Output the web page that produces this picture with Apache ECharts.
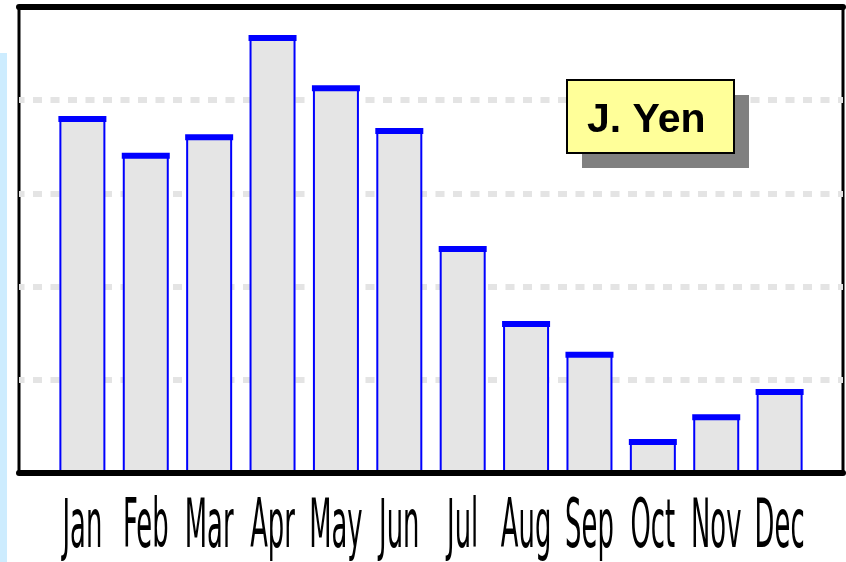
<!DOCTYPE html>
<html>
<head>
<meta charset="utf-8">
<title>J. Yen</title>
<script src="https://cdn.jsdelivr.net/npm/echarts@6/dist/echarts.min.js"></script>
<style>
  html, body { margin: 0; padding: 0; background: #fff; }
  #chart { width: 846px; height: 562px; }
</style>
</head>
<body>
<div id="chart"></div>
<script>
// data (no y labels shown, so 0..100 scale)
var months = ['Jan', 'Feb', 'Mar', 'Apr', 'May', 'Jun', 'Jul', 'Aug', 'Sep', 'Oct', 'Nov', 'Dec'];
var values = [76.4, 68.5, 72.5, 93.8, 83.0, 73.8, 48.5, 32.4, 25.8, 7.1, 12.4, 17.8];
var seriesName = 'J. Yen';
var yTicks = [0, 20, 40, 60, 80, 100];

var chart = echarts.init(document.getElementById('chart'));

// bars sit on a value x axis: one unit per month, one unit of padding at each side
function pairs() {
  return values.map(function (v, i) { return [i, v]; });
}

// legend box (yellow with a hard grey drop shadow)
var box = { left: 566, top: 79, width: 167, height: 73, shadow: 16 };

var decorations = [
  {
    type: 'rect', left: 0, top: 53, silent: true,
    shape: { width: 7, height: 509 },
    style: { fill: '#cdecfe' }
  },
  {
    type: 'rect', left: box.left + box.shadow, top: box.top + box.shadow, z: 10, silent: true,
    shape: { width: box.width, height: box.height },
    style: { fill: '#808080' }
  },
  {
    type: 'rect', left: box.left, top: box.top, z: 10, silent: true,
    shape: { width: box.width, height: box.height },
    style: { fill: '#ffff99', stroke: '#000', lineWidth: 2 }
  }
];

var option = {
  animation: false,
  backgroundColor: '#fff',
  grid: {
    left: 19, right: 3, top: 7, bottom: 89,
    show: true,
    borderColor: '#000',
    borderWidth: 3
  },
  legend: {
    data: [seriesName],
    left: box.left,
    top: box.top,
    z: 12,
    icon: 'none',
    itemWidth: 0,
    itemHeight: 0,
    padding: [21, 20, 12, 16],
    selectedMode: false,
    textStyle: {
      color: '#000',
      fontSize: 41,
      fontWeight: 'bold',
      fontFamily: '"Liberation Sans", Arial, sans-serif'
    }
  },
  xAxis: [
    {
      type: 'value', min: -1, max: 12, interval: 1, z: 5,
      axisLine: { show: true, onZero: false, lineStyle: { color: '#000', width: 6 } },
      axisTick: { show: false },
      axisLabel: { show: false },
      splitLine: { show: false }
    },
    {
      type: 'value', position: 'top', min: -1, max: 12, interval: 1, z: 5,
      axisLine: { show: true, onZero: false, lineStyle: { color: '#000', width: 6 } },
      axisTick: { show: false },
      axisLabel: { show: false },
      splitLine: { show: false }
    }
  ],
  yAxis: {
    type: 'value',
    min: yTicks[0],
    max: yTicks[yTicks.length - 1],
    interval: yTicks[1] - yTicks[0],
    axisLine: { show: false },
    axisTick: { show: false },
    axisLabel: { show: false },
    splitLine: {
      show: true,
      lineStyle: { color: '#e4e4e4', width: 6, type: [9, 8.5], dashOffset: 3.5 }
    }
  },
  series: [
    {
      name: seriesName,
      type: 'bar',
      data: pairs(),
      barWidth: 46,
      itemStyle: { color: '#e5e5e5', borderColor: '#0000ff', borderWidth: 2 },
      silent: true,
      z: 2
    },
    {
      // thick blue cap on top of every bar
      name: 'cap',
      type: 'scatter',
      data: pairs(),
      symbol: 'rect',
      symbolSize: [48, 6],
      symbolOffset: [0, 2],
      itemStyle: { color: '#0000ff', opacity: 1 },
      silent: true,
      z: 3
    }
  ],
  graphic: decorations
};

chart.setOption(option);

// month labels: tall narrow text centred on each bar through the x scale
var labels = months.map(function (m, i) {
  return {
    type: 'text',
    x: chart.convertToPixel({ xAxisIndex: 0 }, i),
    y: 529,
    scaleX: 0.38,
    silent: true,
    style: {
      text: m,
      fill: '#000',
      font: '68px "DejaVu Sans", sans-serif',
      align: 'center',
      verticalAlign: 'middle'
    }
  };
});

chart.setOption({ graphic: decorations.concat(labels) });

window.addEventListener('resize', function () { chart.resize(); });
</script>
</body>
</html>
